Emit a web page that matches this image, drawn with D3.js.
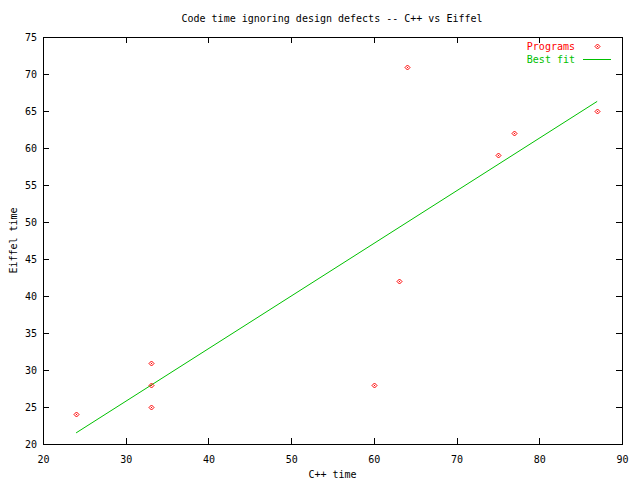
<!DOCTYPE html>
<html>
<head>
<meta charset="utf-8">
<script src="https://cdn.jsdelivr.net/npm/d3@7"></script>
<style>
  html, body { margin: 0; padding: 0; background: #fff; }
  text { font-family: "DejaVu Sans Mono", "Liberation Mono", monospace; font-size: 10px; }
</style>
</head>
<body>
<svg id="chart" width="640" height="480"></svg>
<script>
// Data
const cppTime    = [24, 33, 33, 33, 60, 63, 64, 75, 77, 87];
const eiffelTime = [24, 31, 28, 25, 28, 42, 71, 59, 62, 65];
const fitX = [24, 87];
const fitY = [21.5, 66.3];
const xTicks = [20, 30, 40, 50, 60, 70, 80, 90];
const yTicks = [20, 25, 30, 35, 40, 45, 50, 55, 60, 65, 70, 75];
const titleText = "Code time ignoring design defects -- C++ vs Eiffel";
const xLabel = "C++ time";
const yLabel = "Eiffel time";
const legendLabels = ["Programs", "Best fit"];

(function () {
const W = 640, H = 480;
const L = 43, R = 622, T = 37, B = 444;
const red = "#ff0000", green = "#00c000";

const svg = d3.select("#chart");
svg.append("rect").attr("width", W).attr("height", H).attr("fill", "#fff");

const x = d3.scaleLinear().domain([20, 90]).range([L, R]);
const y = d3.scaleLinear().domain([20, 75]).range([B, T]);

const g = svg.append("g").attr("shape-rendering", "crispEdges");

// Axes with inward ticks
const tickLen = 6;
const axBottom = g.append("g").attr("transform", `translate(0,${B})`)
  .call(d3.axisBottom(x).tickValues(xTicks).tickSizeInner(-tickLen).tickSizeOuter(0).tickPadding(10).tickFormat(d3.format("d")));
const axTop = g.append("g").attr("transform", `translate(0,${T})`)
  .call(d3.axisTop(x).tickValues(xTicks.slice(1, -1)).tickSizeInner(-tickLen).tickSizeOuter(0).tickFormat(""));
const axLeft = g.append("g").attr("transform", `translate(${L},0)`)
  .call(d3.axisLeft(y).tickValues(yTicks).tickSizeInner(-tickLen).tickSizeOuter(0).tickPadding(10).tickFormat(d3.format("d")));
const axRight = g.append("g").attr("transform", `translate(${R},0)`)
  .call(d3.axisRight(y).tickValues(yTicks.slice(1, -1)).tickSizeInner(-tickLen).tickSizeOuter(0).tickFormat(""));

[axBottom, axTop, axLeft, axRight].forEach(a => {
  a.select(".domain").remove();
  a.selectAll("line").attr("stroke", "#000");
  a.selectAll("text").attr("fill", "#000").style("font-family", "DejaVu Sans Mono, monospace").style("font-size", "10px");
});
axLeft.selectAll("text").attr("x", -6);
axBottom.selectAll("text").attr("y", 12);

// Frame
g.append("rect").attr("x", L + 0.5).attr("y", T + 0.5).attr("width", R - L).attr("height", B - T)
  .attr("fill", "none").attr("stroke", "#000");

// Title and axis labels
svg.append("text").attr("x", (L + R) / 2 - 0.5).attr("y", 22).attr("text-anchor", "middle").text(titleText);
svg.append("text").attr("x", (L + R) / 2).attr("y", 478).attr("text-anchor", "middle").text(xLabel);
svg.append("text").attr("transform", `translate(17,${(T + B) / 2}) rotate(-90)`).attr("text-anchor", "middle").text(yLabel);

// Diamond marker
function diamond(sel, cx, cy) {
  sel.append("path")
    .attr("d", `M${cx},${cy - 2.5}L${cx + 2.5},${cy}L${cx},${cy + 2.5}L${cx - 2.5},${cy}Z`)
    .attr("fill", "none").attr("stroke", red).attr("stroke-width", 1);
  sel.append("rect").attr("x", cx - 0.5).attr("y", cy - 0.5).attr("width", 1).attr("height", 1)
    .attr("fill", red);
}

// Best fit line
const line = d3.line().x(d => x(d[0])).y(d => y(d[1]));
svg.append("path").datum(fitX.map((v, i) => [v, fitY[i]]))
  .attr("d", line).attr("fill", "none").attr("stroke", green).attr("stroke-width", 1);

// Points
const pts = svg.append("g");
cppTime.forEach((v, i) => diamond(pts, Math.round(x(v)) + 0.5, Math.round(y(eiffelTime[i])) + 0.5));

// Legend
svg.append("text").attr("x", 575).attr("y", 50).attr("text-anchor", "end").attr("fill", red).text(legendLabels[0]);
diamond(svg.append("g"), 597.5, 46.5);
svg.append("text").attr("x", 575).attr("y", 63).attr("text-anchor", "end").attr("fill", green).text(legendLabels[1]);
svg.append("line").attr("x1", 583).attr("x2", 611).attr("y1", 59.5).attr("y2", 59.5)
  .attr("stroke", green).attr("stroke-width", 1);
})();
</script>
</body>
</html>
